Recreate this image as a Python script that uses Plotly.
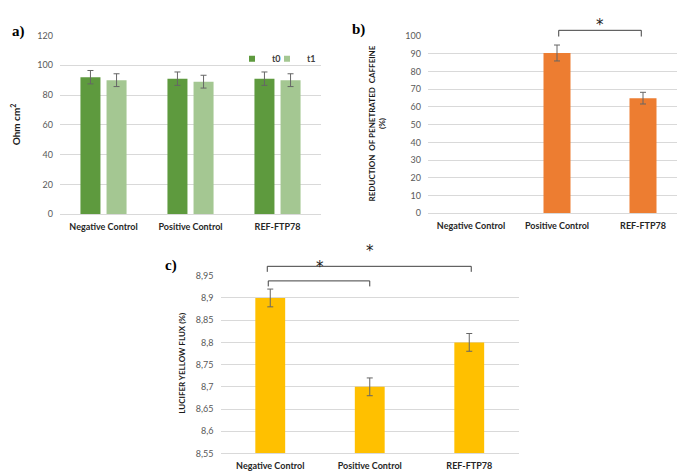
import plotly.graph_objects as go

categories = ["Negative Control", "Positive Control", "REF-FTP78"]

# Panel a: TEER (Ohm cm2)
teer_t0 = [92, 91, 91]
teer_t0_err = [4.5, 4.5, 4.5]
teer_t1 = [90, 89, 90]
teer_t1_err = [4.3, 4.3, 4.3]

# Panel b: reduction of penetrated caffeine (%)
caffeine = [None, 90.5, 65]
caffeine_err = [0, 4.5, 3.3]

# Panel c: lucifer yellow flux (%)
lucifer = [8.9, 8.7, 8.8]
lucifer_err = [0.02, 0.02, 0.02]
lucifer_axis_min = 8.55

W, H = 685, 471
def px_x(a, b):
    return [a / W, b / W]
def px_y(top, bottom):
    return [1 - bottom / H, 1 - top / H]

FAM = "Lato, Open Sans, sans-serif"
TICKFONT = dict(family=FAM, size=9, color="#595959")
CATFONT = dict(family=FAM, size=9, color="#262626", weight="bold")
GRID = "#D9D9D9"
ERRC = "#666666"
C_T0, C_T1 = "#5E9A3E", "#A4C792"

fig = go.Figure()

fig.add_trace(go.Bar(
    x=categories, y=teer_t0, name="t0", marker_color=C_T0,
    marker_line_width=0, width=0.23, offset=-0.265,
    error_y=dict(type="data", array=teer_t0_err, color=ERRC, thickness=1, width=3),
    xaxis="x", yaxis="y", showlegend=False, legendgroup="t0"))
fig.add_trace(go.Bar(
    x=categories, y=teer_t1, name="t1", marker_color=C_T1,
    marker_line_width=0, width=0.23, offset=0.035,
    error_y=dict(type="data", array=teer_t1_err, color=ERRC, thickness=1, width=3),
    xaxis="x", yaxis="y", showlegend=False, legendgroup="t1"))
# legend entries with small square swatches (as in the reference)
for nm, col, lg in [("t0", C_T0, "legend"), ("t1", C_T1, "legend2")]:
    fig.add_trace(go.Scatter(x=[None], y=[None], mode="markers", name=nm, legendgroup=nm,
                             legend=lg,
                             marker=dict(symbol="square", size=6, color=col),
                             xaxis="x", yaxis="y", showlegend=True, hoverinfo="skip"))

fig.add_trace(go.Bar(
    x=categories, y=caffeine, name="caffeine", marker_color="#ED7D31",
    marker_line_width=0, width=0.314,
    error_y=dict(type="data", array=caffeine_err, color=ERRC, thickness=1, width=3),
    xaxis="x2", yaxis="y2", showlegend=False))

fig.add_trace(go.Bar(
    x=categories, y=[v - lucifer_axis_min for v in lucifer], base=lucifer_axis_min,
    name="lucifer", marker_color="#FFC000",
    marker_line_width=0, width=0.30,
    error_y=dict(type="data", array=lucifer_err, color=ERRC, thickness=1, width=3),
    xaxis="x3", yaxis="y3", showlegend=False))

common_x = dict(type="category", categoryorder="array", categoryarray=categories,
                showgrid=False, showline=True, linecolor=GRID, linewidth=1,
                ticks="", tickfont=CATFONT, fixedrange=True)
common_y = dict(showgrid=True, gridcolor=GRID, gridwidth=1, zeroline=False,
                showline=False, ticks="", tickfont=TICKFONT, fixedrange=True)

LEGFONT = dict(family=FAM, size=9, color="#404040", weight="bold")
legend_common = dict(orientation="h", xanchor="left", yanchor="top", font=LEGFONT,
                     bgcolor="rgba(0,0,0,0)", itemwidth=30,
                     itemclick=False, itemdoubleclick=False)

fig.update_layout(
    width=W, height=H,
    margin=dict(l=0, r=0, t=0, b=0),
    paper_bgcolor="white", plot_bgcolor="white",
    separators=",.",
    font=dict(family=FAM),
    xaxis=dict(domain=px_x(52, 313), anchor="y", **common_x),
    yaxis=dict(domain=px_y(22, 205), anchor="x", range=[0, 120], dtick=20, **common_y),
    xaxis2=dict(domain=px_x(420, 678), anchor="y2", **common_x),
    yaxis2=dict(domain=px_y(22.7, 204), anchor="x2", range=[0, 100], dtick=10, **common_y),
    xaxis3=dict(domain=px_x(212.5, 511), anchor="y3", **common_x),
    yaxis3=dict(domain=px_y(268, 450), anchor="x3", range=[lucifer_axis_min, 8.95], dtick=0.05, **common_y),
    legend=dict(x=224 / W, y=1 - 31 / H, **legend_common),
    legend2=dict(x=259 / W, y=1 - 31 / H, **legend_common),
    showlegend=True,
)
fig.update_xaxes(ticklabelstandoff=4)
fig.update_yaxes(ticklabelstandoff=6)

ann = []
# axis titles
ann.append(dict(text="<b>Ohm cm<sup>2</sup></b>", x=7 / W, y=1 - 113 / H, xref="paper", yref="paper",
                xanchor="center", yanchor="middle",
                textangle=-90, showarrow=False, font=dict(size=10, color="#1a1a1a")))
ann.append(dict(text="<b>REDUCTION  OF PENETRATED  CAFFEINE</b><br><b>(%)</b>", x=369 / W, y=1 - 112 / H,
                xref="paper", yref="paper", xanchor="center", yanchor="middle",
                textangle=-90, showarrow=False,
                font=dict(size=8, color="#1a1a1a")))
ann.append(dict(text="<b>LUCIFER YELLOW FLUX (%)</b>", x=174 / W, y=1 - 357 / H,
                xref="paper", yref="paper", xanchor="center", yanchor="middle",
                textangle=-90, showarrow=False,
                font=dict(size=8, color="#1a1a1a")))
# panel letters
for txt, xx, yy in [("a)", 10, 18), ("b)", 350, 16), ("c)", 163, 258)]:
    ann.append(dict(text="<b>" + txt + "</b>", x=xx / W, y=1 - yy / H, xref="paper", yref="paper",
                    xanchor="center", yanchor="middle", showarrow=False,
                    font=dict(family="Liberation Serif, serif", size=15, color="black")))
# significance stars
STAR = dict(family="DejaVu Sans, sans-serif", size=15, color="#1a1a1a")
ann.append(dict(text="*", x=1.5, y=1.123, xref="x2", yref="y2 domain", showarrow=False,
                xanchor="center", yanchor="top", font=STAR))
ann.append(dict(text="*", x=0.5, y=0.985, xref="x3", yref="y3 domain", showarrow=False,
                xanchor="center", yanchor="bottom", font=STAR))
ann.append(dict(text="*", x=1.0, y=1.08, xref="x3", yref="y3 domain", showarrow=False,
                xanchor="center", yanchor="bottom", font=STAR))
fig.update_layout(annotations=ann)

# significance brackets
def bracket(xr, yr, x0, x1, ytop, ybot):
    return dict(type="path", xref=xr, yref=yr,
                path=f"M {x0},{ybot} L {x0},{ytop} L {x1},{ytop} L {x1},{ybot}",
                line=dict(color="#404040", width=1))

fig.update_layout(shapes=[
    bracket("x2", "y2 domain", 1.02, 1.98, 1.033, 0.998),
    bracket("x3", "y3 domain", -0.02, 1.0, 0.971, 0.940),
    bracket("x3", "y3 domain", -0.03, 2.02, 1.053, 1.022),
])

fig.write_html("out.html")
